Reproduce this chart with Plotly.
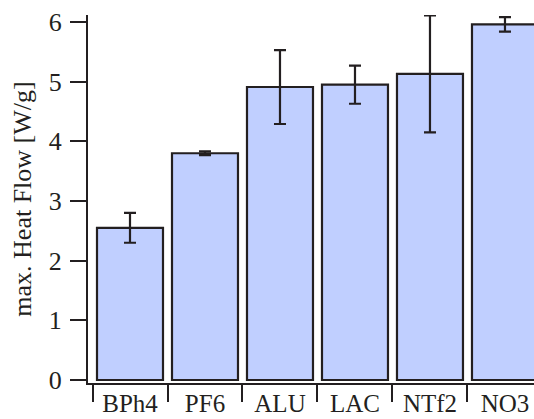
import plotly.graph_objects as go

categories = ["BPh4", "PF6", "ALU", "LAC", "NTf2", "NO3"]
heat_flow = [2.55, 3.80, 4.91, 4.95, 5.13, 5.96]
heat_flow_err = [0.25, 0.03, 0.62, 0.32, 0.98, 0.12]
y_ticks = [0, 1, 2, 3, 4, 5, 6]

ink = "#231f20"
font = dict(family="Liberation Serif", size=26, color=ink)
xfont = dict(family="Liberation Serif", size=25, color=ink)

fig = go.Figure(
    go.Bar(
        x=categories,
        y=heat_flow,
        width=0.88,
        marker=dict(color="#c0cfff", line=dict(color=ink, width=2.2)),
        error_y=dict(type="data", array=heat_flow_err, visible=True,
                     color=ink, thickness=2.2, width=6),
    )
)

fig.update_layout(
    width=534, height=419,
    margin=dict(l=88, r=0, t=15, b=36, autoexpand=False),
    paper_bgcolor="white", plot_bgcolor="white",
    font=font,
    showlegend=False,
    xaxis=dict(
        type="category",
        range=[-0.56, 5.387],
        automargin=False,
        showline=True, linecolor=ink, linewidth=2,
        ticks="outside", tickson="boundaries", ticklen=17, tickwidth=2, tickcolor=ink,
        ticklabelstandoff=-3,
        showgrid=False, zeroline=False,
        tickfont=xfont,
    ),
    yaxis=dict(
        range=[-0.05, 6.117],
        tickvals=y_ticks,
        automargin=False,
        showline=True, linecolor=ink, linewidth=2,
        ticks="outside", ticklen=16, tickwidth=2, tickcolor=ink,
        ticklabelstandoff=3,
        showgrid=False, zeroline=False,
        tickfont=font,
        title=dict(text="max. Heat Flow [W/g]", font=font, standoff=10),
    ),
)

fig.write_html("out.html")
